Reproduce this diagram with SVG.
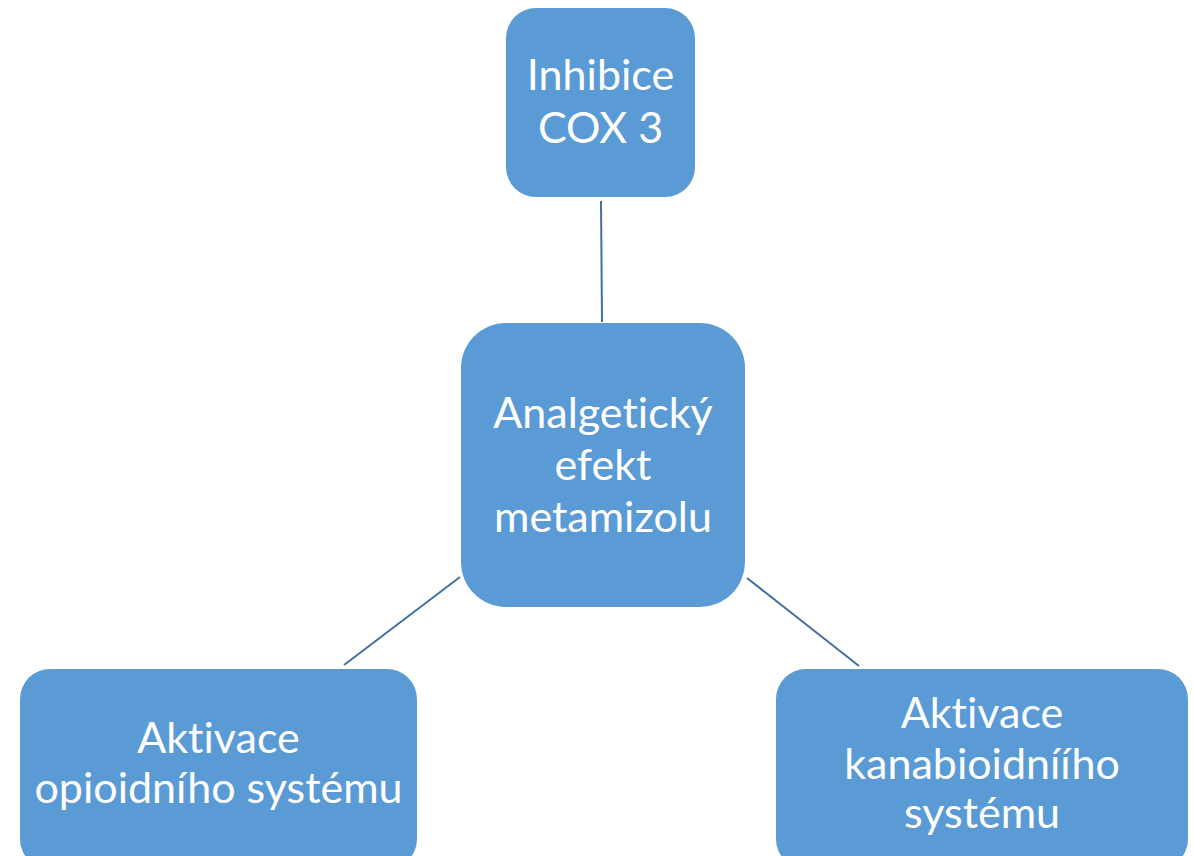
<svg xmlns="http://www.w3.org/2000/svg" width="1193" height="856" viewBox="0 0 1193 856">
<style>
.box{fill:#5B9BD5;}
.t{font-family:Lato,"Open Sans","Liberation Sans",sans-serif;font-size:43px;fill:#FFFFFF;text-anchor:middle;font-variant-ligatures:none;}
.c{stroke:#41719C;stroke-width:2;fill:none;}
</style>
<rect width="1193" height="856" fill="#FFFFFF"/>
<g id="connectors">
<line class="c" x1="601" y1="201" x2="602" y2="322"/>
<line class="c" x1="460" y1="577" x2="344" y2="665"/>
<line class="c" x1="747" y1="578" x2="859" y2="666"/>
</g>
<g id="node-top">
<rect class="box" x="506" y="8" width="189" height="189" rx="30"/>
<text class="t" x="600.5" y="90">Inhibice</text>
<text class="t" x="600.5" y="143">COX 3</text>
</g>
<g id="node-center">
<rect class="box" x="461" y="323" width="284" height="284" rx="45"/>
<text class="t" x="603" y="428">Analgetický</text>
<text class="t" x="603" y="480">efekt</text>
<text class="t" x="603" y="532">metamizolu</text>
</g>
<g id="node-left">
<rect class="box" x="20" y="669" width="397" height="200" rx="30"/>
<text class="t" x="218.5" y="753">Aktivace</text>
<text class="t" x="218.5" y="803">opioidního systému</text>
</g>
<g id="node-right">
<rect class="box" x="776" y="669" width="412" height="200" rx="30"/>
<text class="t" x="982" y="728">Aktivace</text>
<text class="t" x="982" y="779">kanabioidníího</text>
<text class="t" x="982" y="828">systému</text>
</g>
</svg>
